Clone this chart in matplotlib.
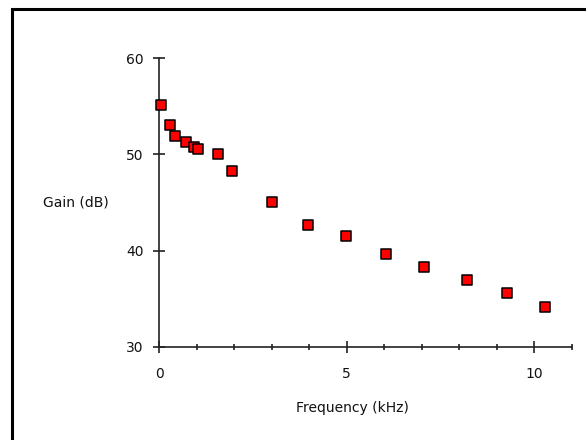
import matplotlib
matplotlib.use("Agg")
import matplotlib.pyplot as plt
from matplotlib.patches import Rectangle
from matplotlib.ticker import MultipleLocator

freq_khz = [0.05, 0.28, 0.43, 0.70, 0.92, 1.02, 1.56, 1.94, 3.01, 3.97, 4.98, 6.06, 7.07, 8.20, 9.27, 10.29]
gain_db = [55.1, 53.1, 51.9, 51.3, 50.8, 50.6, 50.0, 48.3, 45.0, 42.7, 41.5, 39.6, 38.3, 36.9, 35.6, 34.1]
x_ticks = [0, 5, 10]
y_ticks = [30, 40, 50, 60]

W, H = 586, 440
fig = plt.figure(figsize=(W / 100, H / 100), dpi=100)
fig.patch.set_facecolor("white")

# outer frame (cut off at right and bottom)
fig.patches.append(Rectangle((12 / W, -0.05), 1.1, 1 - 9 / H + 0.05,
                             transform=fig.transFigure, fill=False,
                             edgecolor="black", linewidth=2.2))

ax = fig.add_axes([159.3 / W, 1 - 346.7 / H, (571.7 - 159.3) / W, (346.7 - 58.3) / H])
ax.scatter(freq_khz, gain_db, marker="s", s=42, facecolor="#ff0000",
           edgecolor="black", linewidth=1.1, zorder=3, clip_on=False)

ax.set_xlim(0, 11)
ax.set_ylim(30, 60)
ax.set_xticks(x_ticks)
ax.set_yticks(y_ticks)
ax.xaxis.set_minor_locator(MultipleLocator(1))
for s in ["top", "right"]:
    ax.spines[s].set_visible(False)
for s in ["left", "bottom"]:
    ax.spines[s].set_linewidth(1.2)
    ax.spines[s].set_color("#222222")
ax.tick_params(axis="both", which="major", direction="inout", length=8, width=1.2,
               labelsize=10, color="#222222", labelcolor="#111111")
ax.tick_params(axis="x", which="minor", direction="inout", length=4, width=1.2, color="#222222")
ax.tick_params(axis="x", which="major", pad=10.5)
ax.tick_params(axis="y", which="major", pad=7.5)
ax.set_facecolor("white")

fig.text(76 / W, 1 - 202 / H, "Gain (dB)", ha="center", va="center", fontsize=10, color="#111111")
fig.text(352 / W, 1 - 408 / H, "Frequency (kHz)", ha="center", va="center", fontsize=10, color="#111111")

fig.savefig("out.png", dpi=100, facecolor="white")
